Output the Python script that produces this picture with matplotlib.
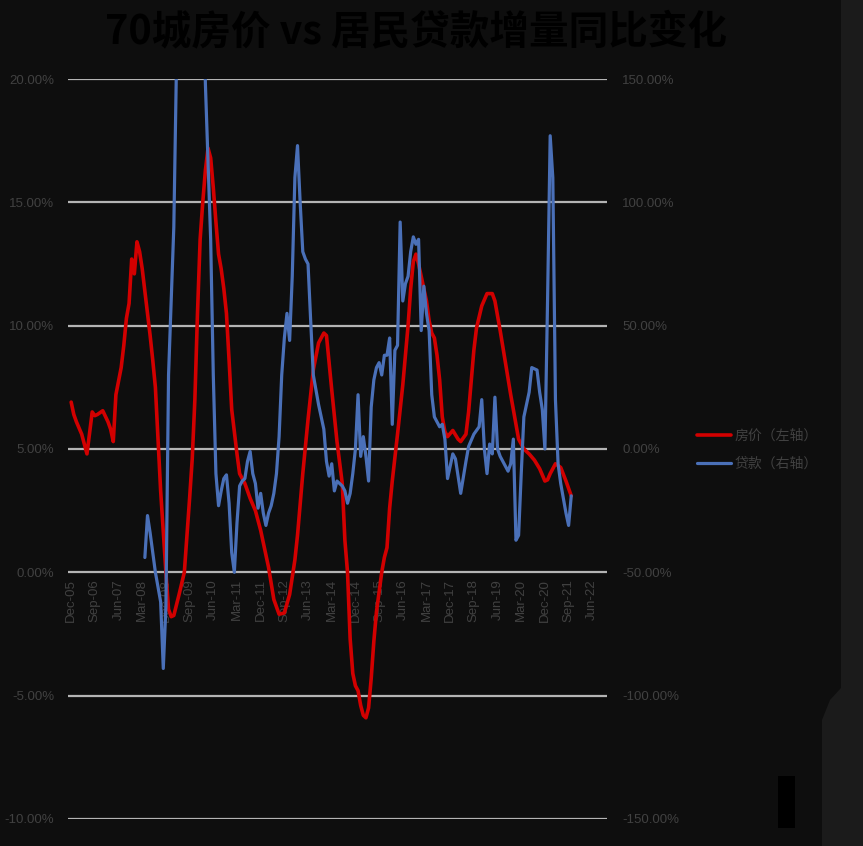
import matplotlib.pyplot as plt
from matplotlib.patches import Polygon, Rectangle
from matplotlib.ticker import PercentFormatter

plt.rcParams['font.family'] = ['Liberation Sans', 'Noto Sans CJK SC', 'DejaVu Sans']
plt.rcParams['axes.unicode_minus'] = False

title = "70城房价 vs 居民贷款增量同比变化"
price_label = "房价（左轴）"
loan_label = "贷款（右轴）"

# x axis: months counted from Dec-05, one label every 9 months
tick_labels = ["Dec-05", "Sep-06", "Jun-07", "Mar-08", "Dec-08", "Sep-09",
               "Jun-10", "Mar-11", "Dec-11", "Sep-12", "Jun-13", "Mar-14",
               "Dec-14", "Sep-15", "Jun-16", "Mar-17", "Dec-17", "Sep-18",
               "Jun-19", "Mar-20", "Dec-20", "Sep-21", "Jun-22"]

# 70-city house price yoy (%), left axis
price_months = [0, 1, 2, 4, 6, 8, 9, 10, 12, 14, 15, 16, 17, 19, 20, 21, 22,
                23, 24, 25, 26, 27, 29, 30, 31, 32, 34, 36, 37, 38, 39, 41, 43,
                44, 45, 46, 47, 48, 49, 50, 51, 52, 53, 54, 55, 56, 57, 58, 59,
                60, 61, 62, 63, 64, 66, 68, 70, 72, 74, 75, 77, 79, 81, 83, 85,
                86, 88, 90, 92, 94, 96, 97, 98, 99, 101, 103, 104, 105, 106,
                107, 108, 109, 110, 111, 112, 113, 114, 115, 116, 118, 119, 120,
                121, 122, 124, 126, 128, 129, 130, 131, 132, 134, 135, 136, 137,
                138, 139, 140, 141, 142, 143, 145, 147, 148, 150, 151, 153, 154,
                156, 158, 160, 161, 163, 165, 167, 169, 170, 172, 174, 176, 178,
                180, 181, 182, 184, 186, 188, 190]
price_yoy = [6.9, 6.4, 6.1, 5.6, 4.8, 6.5, 6.35, 6.4, 6.55, 6.1, 5.8, 5.3,
             7.2, 8.3, 9.2, 10.3, 10.9, 12.7, 12.1, 13.4, 13.0, 12.3, 10.5,
             9.6, 8.6, 7.5, 3.3, 0.0, -1.5, -1.8, -1.75, -0.9, 0.0, 1.5, 3.0,
             4.6, 7.0, 10.5, 13.5, 15.0, 16.3, 17.2, 16.8, 15.6, 14.2, 12.9,
             12.3, 11.5, 10.5, 8.6, 6.6, 5.7, 4.8, 4.0, 3.6, 3.0, 2.5, 1.7,
             0.7, 0.2, -1.1, -1.7, -1.65, -0.9, 0.5, 1.5, 4.0, 6.2, 8.2, 9.3,
             9.7, 9.6, 8.5, 7.4, 5.3, 3.6, 1.3, 0.0, -2.7, -4.1, -4.6, -4.8,
             -5.4, -5.8, -5.9, -5.5, -4.3, -2.8, -1.6, 0.0, 0.6, 1.0, 2.6, 3.7,
             5.6, 7.6, 10.0, 11.5, 12.6, 12.9, 12.5, 11.5, 11.0, 10.2, 9.7,
             9.5, 8.8, 7.8, 6.3, 5.7, 5.5, 5.75, 5.4, 5.3, 5.6, 6.5, 9.0, 9.9,
             10.8, 11.3, 11.3, 11.0, 9.8, 8.5, 7.2, 6.0, 5.4, 5.0, 4.8, 4.55,
             4.2, 3.7, 3.75, 4.0, 4.4, 4.25, 3.7, 3.1]

# household loan increment yoy (%), right axis
loan_months = [28, 29, 30, 31, 32, 33, 34, 35, 36, 37, 38, 39, 40, 41, 45, 50,
               51, 52, 53, 54, 55, 56, 57, 58, 59, 60, 61, 62, 63, 64, 65, 66,
               67, 68, 69, 70, 71, 72, 73, 74, 75, 76, 77, 78, 79, 80, 81, 82,
               83, 84, 85, 86, 87, 88, 89, 90, 91, 92, 94, 96, 97, 98, 99, 100,
               101, 103, 104, 105, 106, 107, 108, 109, 110, 111, 112, 113, 114,
               115, 116, 117, 118, 119, 120, 121, 122, 123, 124, 125, 126, 127,
               128, 129, 130, 131, 132, 133, 134, 135, 136, 137, 138, 140, 141,
               142, 143, 145, 146, 148, 150, 151, 153, 155, 156, 157, 158, 159,
               160, 161, 162, 163, 165, 166, 167, 168, 169, 170, 171, 172, 174,
               175, 177, 178, 179, 180, 181, 182, 183, 184, 185, 186, 188, 189,
               190]
loan_yoy = [-44, -27, -34, -42, -50, -56, -62, -89, -64, 30, 60, 90, 155, 200,
            230, 200, 148, 117, 85, 30, -10, -23, -17, -12, -10.5, -22, -42,
            -50, -30, -15, -13, -12, -5, -1, -10, -14, -24, -18, -26, -31, -26,
            -23, -18, -10, 5, 30, 45, 55, 44, 70, 110, 123, 100, 80, 77, 75, 52,
            30, 18, 8, -5, -11, -6, -17, -13, -15, -17, -22, -18, -10, 0, 22,
            -3, 5, -3, -13, 17, 28, 33, 35, 30, 38, 38, 45, 10, 40, 42, 92, 60,
            67, 70, 80, 86, 83, 85, 48, 66, 55, 48, 22, 13, 9, 10, 4, -12, -2,
            -4, -18, -5, 1, 6, 9, 20, 0, -10, 2, -2, 21, 0, -3, -7, -9, -6, 4,
            -37, -35, -10, 13, 23, 33, 32, 23, 16, 0, 60, 127, 110, 20, -6,
            -14, -26, -31, -19]

bg = '#0e0e0e'
label_color = '#414141'

fig = plt.figure(figsize=(8.63, 8.46), dpi=100, facecolor=bg)
ax = fig.add_axes([0.0788, 0.032, 0.6246, 0.8746])
ax.set_facecolor(bg)
ax2 = ax.twinx()

ax.plot(price_months, price_yoy, color='#d20000', lw=2.6, zorder=3,
        solid_capstyle='round', label=price_label)
ax2.plot(loan_months, loan_yoy, color='#4a70b8', lw=2.3,
         solid_capstyle='round', label=loan_label)

ax.set_xlim(-1.2, 203.6)
ax.set_ylim(-10, 20)
ax2.set_ylim(-150, 150)
ax.set_yticks(range(-10, 21, 5))
ax2.set_yticks(range(-150, 151, 50))
ax.yaxis.set_major_formatter(PercentFormatter(decimals=2))
ax2.yaxis.set_major_formatter(PercentFormatter(decimals=2))

ax.set_xticks(range(0, 9 * len(tick_labels), 9))
ax.set_xticklabels(tick_labels)
ax.spines['bottom'].set_position(('data', 0))
for a in (ax, ax2):
    for s in a.spines.values():
        s.set_visible(False)
ax.tick_params(axis='x', length=0, pad=5, labelsize=9.5, labelcolor=label_color,
               labelrotation=90)
ax.tick_params(axis='y', length=0, pad=10, labelsize=9.5, labelcolor=label_color)
ax2.tick_params(axis='y', length=0, pad=11, labelsize=9.5, labelcolor=label_color)
ax2.tick_params(axis='x', labelbottom=False, length=0)

ax.grid(axis='y', color='#b4b4b4', lw=1.6)
ax.set_axisbelow(True)

fig.text(0.482, 0.962, title, ha='center', va='center', fontsize=28.5,
         fontweight='bold', color='#000000',
         family=['Noto Sans CJK SC', 'DejaVu Sans'])

h1, l1 = ax.get_legend_handles_labels()
h2, l2 = ax2.get_legend_handles_labels()
fig.legend(h1 + h2, l1 + l2, loc='center left', bbox_to_anchor=(0.808, 0.468),
           frameon=False, labelcolor=label_color, handlelength=2.4,
           handletextpad=0.3, labelspacing=1.0, borderpad=0, borderaxespad=0,
           prop={'family': ['Noto Sans CJK SC'], 'size': 10})

# lighter strip along the right edge of the screenshot
edge = Polygon([(841 / 863, 1), (1, 1), (1, 0), (822 / 863, 0),
                (822 / 863, 1 - 720 / 846), (830 / 863, 1 - 700 / 846),
                (841 / 863, 1 - 688 / 846)],
               closed=True, transform=fig.transFigure, color='#1b1b1b', lw=0)
fig.add_artist(edge)
fig.add_artist(Rectangle((778 / 863, 1 - 828 / 846), 17 / 863, 52 / 846,
                         transform=fig.transFigure, color='#000000', lw=0))

fig.savefig('out.png', dpi=100, facecolor=bg)
